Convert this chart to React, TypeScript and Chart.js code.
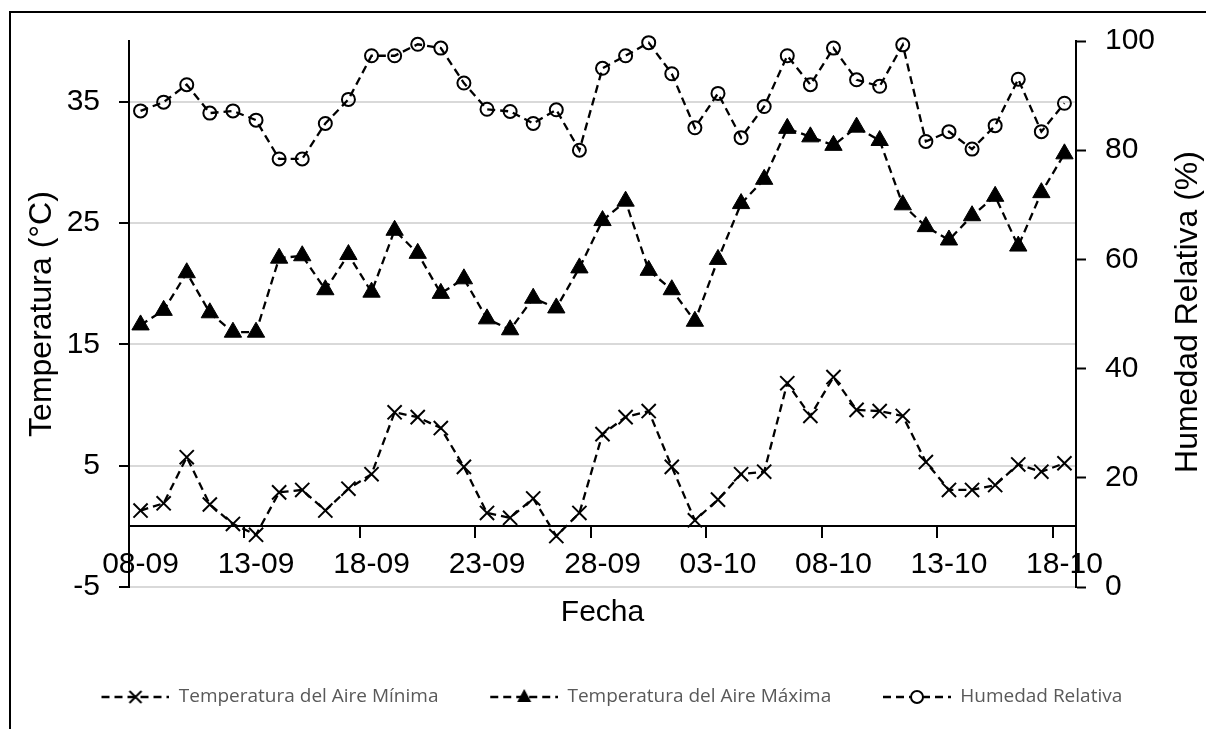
import React, { useEffect, useRef } from 'react';
import { Chart, registerables } from 'chart.js';

Chart.register(...registerables);

const dates = [
  '08-09', '09-09', '10-09', '11-09', '12-09', '13-09', '14-09', '15-09', '16-09', '17-09',
  '18-09', '19-09', '20-09', '21-09', '22-09', '23-09', '24-09', '25-09', '26-09', '27-09',
  '28-09', '29-09', '30-09', '01-10', '02-10', '03-10', '04-10', '05-10', '06-10', '07-10',
  '08-10', '09-10', '10-10', '11-10', '12-10', '13-10', '14-10', '15-10', '16-10', '17-10',
  '18-10',
];

const tempMin = [
  1.3, 1.9, 5.7, 1.8, 0.2, -0.7, 2.8, 3.0, 1.3, 3.1,
  4.3, 9.4, 9.0, 8.1, 4.9, 1.1, 0.7, 2.3, -0.8, 1.1,
  7.6, 9.0, 9.5, 4.9, 0.5, 2.2, 4.3, 4.5, 11.8, 9.1,
  12.3, 9.6, 9.5, 9.1, 5.3, 3.0, 3.0, 3.4, 5.1, 4.5,
  5.2,
];

const tempMax = [
  16.6, 17.8, 20.9, 17.6, 16.0, 16.0, 22.1, 22.3, 19.5, 22.4,
  19.3, 24.4, 22.5, 19.2, 20.4, 17.1, 16.2, 18.8, 18.0, 21.3,
  25.2, 26.8, 21.1, 19.5, 16.9, 22.0, 26.6, 28.6, 32.8, 32.1,
  31.4, 32.9, 31.8, 26.5, 24.7, 23.6, 25.6, 27.2, 23.1, 27.5,
  30.7,
];

const humidity = [
  87.2, 88.8, 92.0, 86.8, 87.2, 85.5, 78.4, 78.4, 84.9, 89.3,
  97.3, 97.3, 99.4, 98.7, 92.3, 87.5, 87.1, 84.9, 87.4, 80.0,
  95.0, 97.3, 99.7, 94.0, 84.1, 90.4, 82.3, 88.0, 97.3, 92.0,
  98.7, 92.9, 91.7, 99.3, 81.6, 83.4, 80.2, 84.5, 93.0, 83.4,
  88.6,
];

const leftTicks = [-5, 5, 15, 25, 35];
const rightTicks = [0, 20, 40, 60, 80, 100];
const seriesLabels = [
  'Temperatura del Aire Mínima',
  'Temperatura del Aire Máxima',
  'Humedad Relativa',
];
const xTitle = 'Fecha';
const leftTitle = 'Temperatura (°C)';
const rightTitle = 'Humedad Relativa (%)';
const labelEvery = 5;

const FONT = "'Liberation Sans', Arial, sans-serif";
const LEGEND_FONT = "'Open Sans', 'Liberation Sans', sans-serif";

function legendIcon(kind: string): HTMLCanvasElement {
  const c = document.createElement('canvas');
  c.width = 70;
  c.height = 22;
  const g = c.getContext('2d')!;
  g.strokeStyle = '#000';
  g.fillStyle = '#000';
  g.lineWidth = 2.3;
  g.setLineDash([8, 5]);
  g.beginPath();
  g.moveTo(2, 11);
  g.lineTo(70, 11);
  g.stroke();
  g.setLineDash([]);
  const cx = 36;
  const cy = 11;
  if (kind === 'cross') {
    g.lineWidth = 2;
    g.beginPath();
    g.moveTo(cx - 6, cy - 6);
    g.lineTo(cx + 6, cy + 6);
    g.moveTo(cx + 6, cy - 6);
    g.lineTo(cx - 6, cy + 6);
    g.stroke();
  } else if (kind === 'triangle') {
    g.beginPath();
    g.moveTo(cx, cy - 8);
    g.lineTo(cx - 7, cy + 5);
    g.lineTo(cx + 7, cy + 5);
    g.closePath();
    g.fill();
  } else {
    g.beginPath();
    g.arc(cx, cy, 6, 0, Math.PI * 2);
    g.fillStyle = '#fff';
    g.fill();
    g.lineWidth = 2;
    g.stroke();
  }
  return c;
}

const framePlugin = {
  id: 'frame',
  beforeDraw(chart: any) {
    const { ctx } = chart;
    ctx.save();
    ctx.fillStyle = '#fff';
    ctx.fillRect(0, 0, chart.width, chart.height);
    ctx.strokeStyle = '#000';
    ctx.lineWidth = 2;
    ctx.beginPath();
    ctx.moveTo(10, chart.height);
    ctx.lineTo(10, 12);
    ctx.lineTo(chart.width, 12);
    ctx.stroke();
    ctx.restore();
  },
};

const rightTitlePlugin = {
  id: 'rightTitle',
  afterDraw(chart: any) {
    const { ctx, chartArea } = chart;
    ctx.save();
    ctx.translate(1188, (chartArea.top + chartArea.bottom) / 2 - 2);
    ctx.rotate(-Math.PI / 2);
    ctx.font = `32px ${FONT}`;
    ctx.fillStyle = '#000';
    ctx.textAlign = 'center';
    ctx.textBaseline = 'middle';
    ctx.fillText(rightTitle, 0, 0);
    ctx.restore();
  },
};

export default function App() {
  const ref = useRef<HTMLCanvasElement>(null);

  useEffect(() => {
    const icons = [legendIcon('cross'), legendIcon('triangle'), legendIcon('circle')];
    const dash = [8, 5];
    const chart = new Chart(ref.current as HTMLCanvasElement, {
      type: 'line',
      data: {
        labels: dates,
        datasets: [
          {
            label: seriesLabels[0],
            data: tempMin,
            yAxisID: 'y',
            borderColor: '#000',
            borderWidth: 2.3,
            borderDash: dash,
            pointStyle: 'crossRot',
            pointRadius: 10,
            pointBorderWidth: 2,
            pointBorderColor: '#000',
            pointBackgroundColor: '#000',
            tension: 0,
            clip: false,
          },
          {
            label: seriesLabels[1],
            data: tempMax,
            yAxisID: 'y',
            borderColor: '#000',
            borderWidth: 2.3,
            borderDash: dash,
            pointStyle: 'triangle',
            pointRadius: 10,
            pointBorderWidth: 1,
            pointBorderColor: '#000',
            pointBackgroundColor: '#000',
            tension: 0,
            clip: false,
          },
          {
            label: seriesLabels[2],
            data: humidity,
            yAxisID: 'y2',
            borderColor: '#000',
            borderWidth: 2.3,
            borderDash: dash,
            pointStyle: 'circle',
            pointRadius: 6.5,
            pointBorderWidth: 2,
            pointBorderColor: '#000',
            pointBackgroundColor: 'rgba(0,0,0,0)',
            tension: 0,
            clip: false,
          },
        ],
      },
      options: {
        responsive: false,
        animation: false,
        devicePixelRatio: 1,
        events: [],
        layout: { padding: { left: 16, right: 0, top: 41, bottom: 12.5 } },
        plugins: {
          tooltip: { enabled: false },
          legend: {
            position: 'bottom',
            title: { display: true, text: ' ', font: { size: 1 }, padding: { top: 49.3, bottom: 0 } },
            labels: {
              usePointStyle: true,
              pointStyleWidth: 69.5,
              padding: 50,
              color: '#595959',
              font: { family: LEGEND_FONT, size: 19 },
              generateLabels: (ch: any) =>
                ch.data.datasets.map((ds: any, i: number) => ({
                  text: ds.label,
                  pointStyle: icons[i],
                  fillStyle: 'rgba(0,0,0,0)',
                  strokeStyle: 'rgba(0,0,0,0)',
                  lineWidth: 0,
                  fontColor: '#595959',
                  hidden: false,
                  datasetIndex: i,
                })),
            },
          },
        },
        scales: {
          x: {
            type: 'category',
            position: { y: 0 },
            offset: true,
            grid: {
              offset: true,
              drawOnChartArea: false,
              drawTicks: true,
              tickLength: 11,
              lineWidth: 2,
              color: (c: any) => (c.index !== undefined && c.index % labelEvery === 0 ? '#000' : 'rgba(0,0,0,0)'),
              tickColor: (c: any) => (c.index !== undefined && c.index % labelEvery === 0 ? '#000' : 'rgba(0,0,0,0)'),
            },
            border: { display: true, color: '#000', width: 2 },
            ticks: {
              autoSkip: false,
              maxRotation: 0,
              minRotation: 0,
              padding: 9,
              color: '#000',
              font: { family: FONT, size: 30 },
              callback: (_v: any, i: number) => (i % labelEvery === 0 ? dates[i] : ''),
            },
            title: {
              display: true,
              text: xTitle,
              color: '#000',
              font: { family: FONT, size: 30 },
              padding: { top: 3, bottom: 0 },
            },
          },
          y: {
            type: 'linear',
            position: 'left',
            min: -5,
            max: 40,
            afterBuildTicks: (s: any) => {
              s.ticks = leftTicks.map((v) => ({ value: v }));
            },
            afterFit: (s: any) => {
              s.width = 113;
            },
            grid: {
              color: '#d9d9d9',
              lineWidth: 2,
              drawTicks: true,
              tickLength: 10,
              tickColor: '#000',
              tickWidth: 2,
            },
            border: { display: true, color: '#000', width: 2 },
            ticks: {
              padding: 19,
              color: '#000',
              font: { family: FONT, size: 30 },
            },
            title: {
              display: true,
              text: leftTitle,
              color: '#000',
              font: { family: FONT, size: 32 },
              padding: { top: 7, bottom: 0 },
            },
          },
          y2: {
            type: 'linear',
            position: 'right',
            min: 0,
            max: 100,
            afterBuildTicks: (s: any) => {
              s.ticks = rightTicks.map((v) => ({ value: v }));
            },
            afterFit: (s: any) => {
              s.width = 130;
            },
            grid: {
              drawOnChartArea: false,
              drawTicks: true,
              tickLength: 10,
              tickColor: '#000',
              tickWidth: 2,
            },
            border: { display: true, color: '#000', width: 2 },
            ticks: {
              padding: 19,
              color: '#000',
              font: { family: FONT, size: 30 },
            },
          },
        },
      },
      plugins: [framePlugin, rightTitlePlugin],
    } as any);
    return () => chart.destroy();
  }, []);

  return (
    <div style={{ position: 'fixed', left: 0, top: 0, width: 1206, height: 729, background: '#fff' }}>
      <canvas ref={ref} width={1206} height={729} style={{ display: 'block', width: 1206, height: 729 }} />
    </div>
  );
}
